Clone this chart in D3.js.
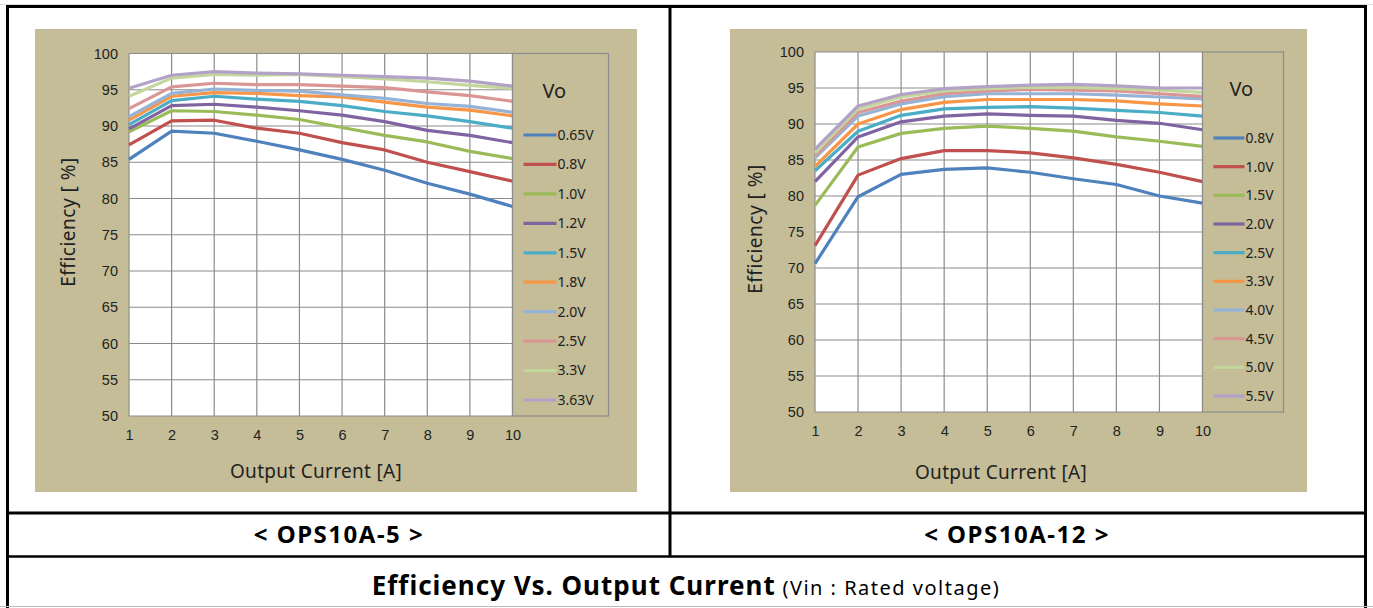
<!DOCTYPE html>
<html>
<head>
<meta charset="utf-8">
<script src="https://cdn.jsdelivr.net/npm/d3@7"></script>
<style>
  body { margin: 0; background: #fff; }
  svg { display: block; font-family: "Noto Sans", "Open Sans", sans-serif; }
  .tick text { fill: #222; font-size: 14.5px; }
</style>
</head>
<body>
<svg id="chart" width="1373" height="608"></svg>
<script>
// x values (output current, A)
const currents = [1, 2, 3, 4, 5, 6, 7, 8, 9, 10];
const yTicks = [50, 55, 60, 65, 70, 75, 80, 85, 90, 95, 100];

const colors = ["#4F81BD", "#C0504D", "#9BBB59", "#8064A2", "#4BACC6",
                "#F79646", "#95B3D7", "#D99694", "#C3D69B", "#B3A2C7"];

// OPS10A-5
const vo5 = ["0.65V", "0.8V", "1.0V", "1.2V", "1.5V", "1.8V", "2.0V", "2.5V", "3.3V", "3.63V"];
const eff5 = [
  [85.4, 89.3, 89.0, 87.9, 86.7, 85.4, 83.9, 82.1, 80.6, 78.9],
  [87.4, 90.7, 90.8, 89.7, 89.0, 87.7, 86.7, 85.0, 83.7, 82.4],
  [89.2, 92.1, 92.0, 91.5, 90.9, 89.8, 88.7, 87.8, 86.5, 85.5],
  [89.6, 92.8, 93.0, 92.6, 92.1, 91.5, 90.6, 89.4, 88.7, 87.7],
  [90.2, 93.5, 94.1, 93.7, 93.4, 92.8, 92.0, 91.4, 90.6, 89.7],
  [90.8, 94.1, 94.6, 94.5, 94.2, 94.0, 93.3, 92.6, 92.2, 91.4],
  [91.3, 94.5, 95.1, 94.9, 94.8, 94.3, 93.8, 93.1, 92.7, 91.9],
  [92.4, 95.4, 95.9, 95.7, 95.7, 95.5, 95.3, 94.7, 94.2, 93.4],
  [94.1, 96.6, 97.1, 97.0, 97.1, 96.8, 96.5, 96.1, 95.6, 95.2],
  [95.2, 97.0, 97.5, 97.3, 97.2, 97.0, 96.8, 96.6, 96.2, 95.5]
];

// OPS10A-12
const vo12 = ["0.8V", "1.0V", "1.5V", "2.0V", "2.5V", "3.3V", "4.0V", "4.5V", "5.0V", "5.5V"];
const eff12 = [
  [70.6, 79.9, 83.0, 83.7, 83.9, 83.3, 82.4, 81.6, 80.0, 79.0],
  [73.1, 82.9, 85.2, 86.3, 86.3, 86.0, 85.3, 84.4, 83.3, 82.0],
  [78.7, 86.8, 88.7, 89.4, 89.7, 89.4, 89.0, 88.2, 87.6, 86.9],
  [82.0, 88.2, 90.3, 91.1, 91.4, 91.2, 91.1, 90.5, 90.1, 89.2],
  [83.5, 89.0, 91.2, 92.1, 92.3, 92.4, 92.2, 91.9, 91.6, 91.1],
  [84.1, 90.0, 92.0, 93.0, 93.4, 93.4, 93.4, 93.2, 92.8, 92.5],
  [85.3, 91.1, 92.8, 93.8, 94.2, 94.2, 94.2, 94.0, 93.75, 93.5],
  [85.6, 91.6, 93.2, 94.2, 94.6, 94.8, 94.7, 94.6, 94.2, 93.85],
  [86.0, 92.1, 93.75, 94.6, 94.9, 95.1, 95.1, 94.9, 94.7, 94.4],
  [86.5, 92.5, 94.1, 94.9, 95.2, 95.4, 95.5, 95.3, 95.0, 95.0]
];

const svg = d3.select("#chart");

function drawChart(cfg) {
  const g = svg.append("g");
  g.append("rect").attr("x", cfg.bg[0]).attr("y", cfg.bg[1])
    .attr("width", cfg.bg[2]).attr("height", cfg.bg[3]).attr("fill", "#C4BD97");

  const x = d3.scaleLinear().domain([1, 10]).range([cfg.left, cfg.right]);
  const y = d3.scaleLinear().domain([50, 100]).range([cfg.bottom, cfg.top]);
  const w = cfg.right - cfg.left, h = cfg.bottom - cfg.top;

  g.append("rect").attr("x", cfg.left).attr("y", cfg.top)
    .attr("width", w).attr("height", h).attr("fill", "#fff");

  // grid
  g.append("g").selectAll("line").data(yTicks).join("line")
    .attr("x1", cfg.left).attr("x2", cfg.right)
    .attr("y1", d => y(d)).attr("y2", d => y(d))
    .attr("stroke", "#8c8c8c").attr("stroke-width", 1.2);
  g.append("g").selectAll("line").data(currents).join("line")
    .attr("x1", d => x(d)).attr("x2", d => x(d))
    .attr("y1", cfg.top).attr("y2", cfg.bottom)
    .attr("stroke", "#8c8c8c").attr("stroke-width", 1.2);

  // axes (labels only)
  const ya = g.append("g").attr("transform", `translate(${cfg.left},0)`)
    .call(d3.axisLeft(y).tickValues(yTicks).tickSize(0).tickPadding(11));
  ya.select(".domain").remove();
  const xa = g.append("g").attr("transform", `translate(0,${cfg.bottom})`)
    .call(d3.axisBottom(x).tickValues(currents).tickSize(0).tickPadding(cfg.xpad));
  xa.select(".domain").remove();

  // series
  const line = d3.line().x((d, i) => x(currents[i])).y(d => y(d));
  g.append("g").selectAll("path").data(cfg.data).join("path")
    .attr("d", line).attr("fill", "none")
    .attr("stroke", (d, i) => colors[i]).attr("stroke-width", 3.2)
    .attr("stroke-linejoin", "round");

  // axis titles
  g.append("text").attr("transform", `translate(${cfg.ylab[0]},${cfg.ylab[1]}) rotate(-90)`)
    .attr("text-anchor", "middle").attr("font-size", 19).attr("fill", "#222")
    .attr("letter-spacing", 0.5).text("Efficiency [ %]");
  g.append("text").attr("x", cfg.xlab[0]).attr("y", cfg.xlab[1])
    .attr("text-anchor", "middle").attr("font-size", 19).attr("fill", "#222")
    .attr("letter-spacing", 0.3).text("Output Current [A]");

  // legend
  const lg = g.append("g");
  lg.append("rect").attr("x", cfg.right).attr("y", cfg.top)
    .attr("width", cfg.legW).attr("height", h)
    .attr("fill", "#C4BD97").attr("stroke", "#8c8c8c").attr("stroke-width", 1.2);
  lg.append("text").attr("x", cfg.right + cfg.voX).attr("y", cfg.top + 44)
    .attr("font-size", 20).attr("fill", "#222").text("Vo");
  const ly = d3.scalePoint().domain(cfg.labels).range(cfg.legY);
  const item = lg.selectAll("g.item").data(cfg.labels).join("g").attr("class", "item")
    .attr("transform", d => `translate(${cfg.right + cfg.legX},${ly(d)})`);
  item.append("line").attr("x1", 0).attr("x2", cfg.legLine)
    .attr("stroke", (d, i) => colors[i]).attr("stroke-width", 3.2);
  item.append("text").attr("x", cfg.legLine + 1).attr("dy", "0.35em")
    .attr("font-size", 14).attr("fill", "#222").text(d => d);
}

drawChart({
  bg: [35, 29, 602, 463], left: 129, right: 512.5, top: 53.5, bottom: 416,
  data: eff5, labels: vo5, xpad: 14,
  ylab: [75, 222], xlab: [316, 478],
  legW: 96, voX: 30, legX: 11, legLine: 33, legY: [135, 400]
});
drawChart({
  bg: [730, 29, 577, 463], left: 815, right: 1202.5, top: 52, bottom: 412,
  data: eff12, labels: vo12, xpad: 14,
  ylab: [762, 229], xlab: [1001, 479],
  legW: 81, voX: 27, legX: 11, legLine: 31, legY: [138, 396]
});

// table frame
const frame = svg.append("g").attr("stroke", "#000");
frame.append("line").attr("x1", 0).attr("x2", 1373).attr("y1", 4.5).attr("y2", 4.5)
  .attr("stroke", "#ddd").attr("stroke-width", 1);
frame.append("rect").attr("x", 7.5).attr("y", 6.5).attr("width", 1358).attr("height", 620)
  .attr("fill", "none").attr("stroke-width", 3);
frame.append("line").attr("x1", 670).attr("x2", 670).attr("y1", 6).attr("y2", 557)
  .attr("stroke-width", 3);
frame.append("line").attr("x1", 7).attr("x2", 1366).attr("y1", 513).attr("y2", 513)
  .attr("stroke-width", 3);
frame.append("line").attr("x1", 7).attr("x2", 1366).attr("y1", 556.5).attr("y2", 556.5)
  .attr("stroke-width", 2.5);
frame.append("line").attr("x1", 0).attr("x2", 1373).attr("y1", 606.5).attr("y2", 606.5)
  .attr("stroke", "#bbb").attr("stroke-width", 1);

svg.append("text").attr("x", 339).attr("y", 543).attr("text-anchor", "middle")
  .attr("font-size", 24).attr("font-weight", "bold").attr("letter-spacing", 1.5)
  .text("< OPS10A-5 >");
svg.append("text").attr("x", 1017).attr("y", 543).attr("text-anchor", "middle")
  .attr("font-size", 24).attr("font-weight", "bold").attr("letter-spacing", 1.5)
  .text("< OPS10A-12 >");

const t = svg.append("text").attr("x", 686).attr("y", 595).attr("text-anchor", "middle");
t.append("tspan").attr("font-size", 26).attr("font-weight", "bold").attr("letter-spacing", 1)
  .text("Efficiency Vs. Output Current");
t.append("tspan").attr("font-size", 20).attr("letter-spacing", 1.5)
  .text(" (Vin : Rated voltage)");
</script>
</body>
</html>
